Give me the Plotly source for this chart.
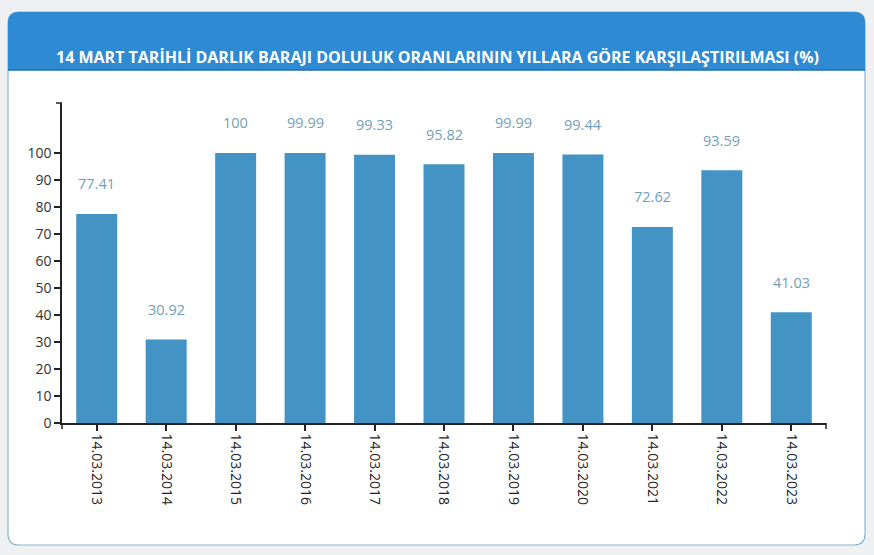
import plotly.graph_objects as go

W, H = 874, 555
# plot area in pixels
PL, PR, PT, PB = 62, 826, 103, 423

dates = ['14.03.2013', '14.03.2014', '14.03.2015', '14.03.2016', '14.03.2017', '14.03.2018',
         '14.03.2019', '14.03.2020', '14.03.2021', '14.03.2022', '14.03.2023']
fill_rates = [77.41, 30.92, 100, 99.99, 99.33, 95.82, 99.99, 99.44, 72.62, 93.59, 41.03]
y_ticks = [0, 10, 20, 30, 40, 50, 60, 70, 80, 90, 100]

title = '14 MART TARİHLİ DARLIK BARAJI DOLULUK ORANLARININ YILLARA GÖRE KARŞILAŞTIRILMASI (%)'


def px(x):
    return (x - PL) / (PR - PL)


def py_(y):
    return (PB - y) / (PB - PT)


def rounded_path(x0, y0, x1, y1, r, bottom=True):
    # path in paper coords from pixel box
    p = [f'M {px(x0 + r)} {py_(y0)}', f'L {px(x1 - r)} {py_(y0)}',
         f'Q {px(x1)} {py_(y0)} {px(x1)} {py_(y0 + r)}']
    if bottom:
        p += [f'L {px(x1)} {py_(y1 - r)}', f'Q {px(x1)} {py_(y1)} {px(x1 - r)} {py_(y1)}',
              f'L {px(x0 + r)} {py_(y1)}', f'Q {px(x0)} {py_(y1)} {px(x0)} {py_(y1 - r)}']
    else:
        p += [f'L {px(x1)} {py_(y1)}', f'L {px(x0)} {py_(y1)}']
    p += [f'L {px(x0)} {py_(y0 + r)}', f'Q {px(x0)} {py_(y0)} {px(x0 + r)} {py_(y0)}', 'Z']
    return ' '.join(p)


fig = go.Figure()
fig.add_trace(go.Bar(x=dates, y=fill_rates, marker={'color': '#4394c4', 'line': {'width': 0}},
                     hoverinfo='x+y'))

for d, v in zip(dates, fill_rates):
    fig.add_annotation(x=d, y=v, text=f'{v:g}', showarrow=False, yanchor='middle', yshift=30,
                       font={'family': 'Open Sans', 'size': 14.5, 'color': '#6f9fbe'})

fig.add_annotation(x=px(437), y=py_(44), xref='paper', yref='paper', text=f'<b>{title}</b>',
                   showarrow=False, font={'family': 'Open Sans', 'size': 16, 'color': 'white'})

shapes = [
    # card
    {'type': 'path', 'xref': 'paper', 'yref': 'paper', 'path': rounded_path(8, 12, 865, 545, 11),
     'fillcolor': 'white', 'line': {'color': '#8fb3cc', 'width': 1.2}, 'layer': 'below'},
    # header
    {'type': 'path', 'xref': 'paper', 'yref': 'paper', 'path': rounded_path(8, 12, 865, 70, 11, bottom=False),
     'fillcolor': '#2d8ad3', 'line': {'width': 0}, 'layer': 'below'},
    {'type': 'line', 'xref': 'paper', 'yref': 'paper', 'x0': px(8), 'x1': px(865), 'y0': py_(70), 'y1': py_(70),
     'line': {'color': '#1f6fae', 'width': 1.5}, 'layer': 'below'},
    # outer axis ticks
    {'type': 'line', 'xref': 'x domain', 'yref': 'y domain', 'x0': 0, 'x1': 0, 'ysizemode': 'pixel',
     'yanchor': 0, 'y0': 0, 'y1': -6, 'line': {'color': '#222', 'width': 1.5}},
    {'type': 'line', 'xref': 'x domain', 'yref': 'y domain', 'x0': 1, 'x1': 1, 'ysizemode': 'pixel',
     'yanchor': 0, 'y0': 0, 'y1': -6, 'line': {'color': '#222', 'width': 1.5}},
    {'type': 'line', 'xref': 'x domain', 'yref': 'y domain', 'y0': 1, 'y1': 1, 'xsizemode': 'pixel',
     'xanchor': 0, 'x0': 0, 'x1': -6, 'line': {'color': '#222', 'width': 1.5}},
]

fig.update_layout(
    width=W, height=H, margin={'l': PL, 'r': W - PR, 't': PT, 'b': H - PB},
    paper_bgcolor='#eef0f2', plot_bgcolor='rgba(0,0,0,0)',
    font={'family': 'Open Sans', 'color': '#333'},
    bargap=0.41, showlegend=False, shapes=shapes,
)
fig.update_xaxes(showgrid=False, showline=True, linecolor='#222', linewidth=1.5,
                 ticks='outside', ticklen=6, tickcolor='#222', tickwidth=1.5,
                 tickangle=90, tickfont={'size': 14, 'color': '#222'}, zeroline=False)
fig.update_yaxes(range=[0, 118.5], tickvals=y_ticks, showgrid=False, showline=True, linecolor='#222',
                 linewidth=1.5, ticks='outside', ticklen=6, tickcolor='#222', tickwidth=1.5,
                 tickfont={'size': 14, 'color': '#333'}, zeroline=False)

fig.write_html('out.html', config={'displayModeBar': False},
               post_script="document.body.style.margin='0';document.body.style.overflow='hidden';")
